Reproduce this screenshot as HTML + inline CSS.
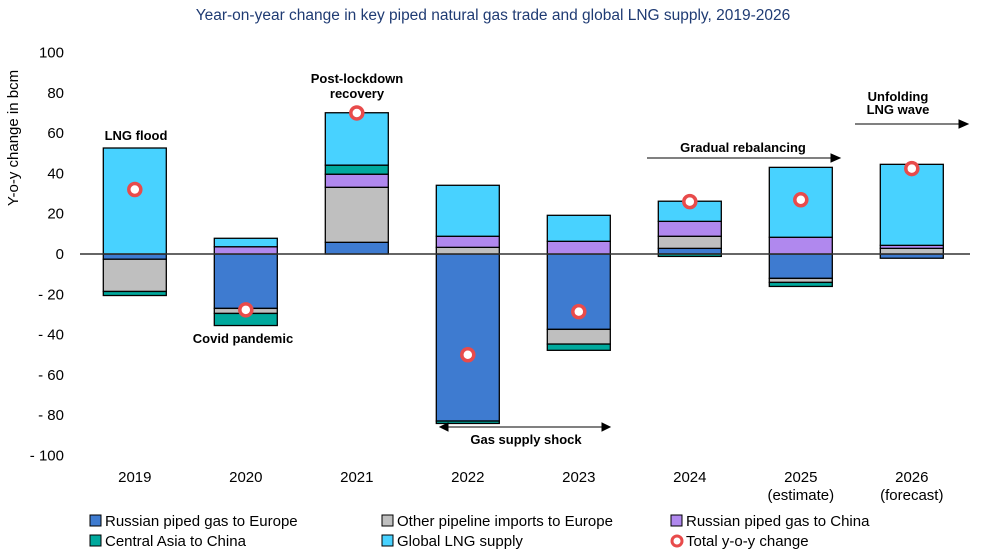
<!DOCTYPE html>
<html><head><meta charset="utf-8"><style>
body{margin:0;background:#fff;}
svg{display:block;font-family:"Liberation Sans",Arial,sans-serif;}
</style></head><body>
<svg id="chart" width="986" height="556">
<text x="493" y="20" text-anchor="middle" font-size="15.5" fill="#1F3B73">Year-on-year change in key piped natural gas trade and global LNG supply, 2019-2026</text>
<text transform="translate(18,138) rotate(-90)" text-anchor="middle" font-size="15" fill="#000">Y-o-y change in bcm</text>
<g id="yticks"></g>
<g id="bars"></g>
<line x1="80" x2="970" y1="254" y2="254" stroke="#333" stroke-width="1.5"/>
<g id="dots"></g>
<g id="xlabels"></g>
<g font-size="13" font-weight="bold" fill="#000">
<text x="136" y="140" text-anchor="middle">LNG flood</text>
<text x="243" y="343" text-anchor="middle">Covid pandemic</text>
<text x="357" y="83" text-anchor="middle">Post-lockdown</text>
<text x="357" y="98" text-anchor="middle">recovery</text>
<text x="526" y="444" text-anchor="middle">Gas supply shock</text>
<text x="743" y="152" text-anchor="middle">Gradual rebalancing</text>
<text x="898" y="101" text-anchor="middle">Unfolding</text>
<text x="898" y="114" text-anchor="middle">LNG wave</text>
</g>
<g stroke="#000" stroke-width="1" fill="#000">
<line x1="446" x2="604" y1="427" y2="427"/>
<polygon points="440,427 448,423 448,431"/>
<polygon points="610,427 602,423 602,431"/>
<line x1="647" x2="834" y1="158" y2="158"/>
<polygon points="840,158 831,154 831,162"/>
<line x1="855" x2="962" y1="124" y2="124"/>
<polygon points="968,124 959,120 959,128"/>
</g>
<g id="legend" font-size="15" fill="#000"></g>
</svg>
<script>
const categories=["2019","2020","2021","2022","2023","2024","2025","2026"];
const subLabels=["","","","","","","(estimate)","(forecast)"];
const russiaEurope=[-2.6,-27,5.8,-82.9,-37.4,2.8,-12.1,-2.1];
const otherPipeline=[-16,-2.5,27.3,3.3,-7.3,6,-2,2.8];
const russiaChina=[0,3.6,6.5,5.5,6.3,7.4,8.3,1.5];
const centralAsia=[-2,-6,4.5,-1.2,-3.1,-1.2,-2,0];
const lngSupply=[52.6,4.2,26,25.3,12.9,10,34.7,40.2];
const totalChange=[32,-27.7,70,-50,-28.6,26,26.9,42.4];
const yTicks=[100,80,60,40,20,0,-20,-40,-60,-80,-100];
const seriesNames=["Russian piped gas to Europe","Other pipeline imports to Europe","Russian piped gas to China","Central Asia to China","Global LNG supply"];
const seriesKeys=["russia-europe","other-pipeline","russia-china","central-asia","lng-supply"];
const colors=["#3E7BD0","#BFBFBF","#B088EE","#00A99D","#48D2FF"];
const NS="http://www.w3.org/2000/svg";
function y(v){return 254-v*2.015;}
function x(i){return 134.8+i*111;}
function mk(tag,attrs,parent){const e=document.createElementNS(NS,tag);for(const k in attrs)e.setAttribute(k,attrs[k]);parent.appendChild(e);return e;}
const yt=document.getElementById("yticks");
yTicks.forEach(v=>{const t=mk("text",{x:64,y:y(v)+5,"text-anchor":"end","font-size":15},yt);


t.textContent=v<0?"- "+(-v):String(v);});
const series=[russiaEurope,otherPipeline,russiaChina,centralAsia,lngSupply];
const bg=document.getElementById("bars");
const bw=63;
categories.forEach((c,i)=>{let pos=0,neg=0;
series.forEach((s,k)=>{const v=s[i];if(!v)return;let y0,y1;
if(v>0){y0=pos;y1=pos+v;pos=y1;}else{y0=neg;y1=neg+v;neg=y1;}
const r=mk("rect",{x:x(i)-bw/2,y:Math.min(y(y0),y(y1)),width:bw,height:Math.abs(y(y1)-y(y0)),fill:colors[k],stroke:"#000","stroke-width":1.3},bg);

});});
const dg=document.getElementById("dots");
totalChange.forEach((v,i)=>{const d=mk("circle",{cx:x(i),cy:y(v),r:6,fill:"#fff",stroke:"#E84B4B","stroke-width":3.5},dg);

});
const xl=document.getElementById("xlabels");
categories.forEach((c,i)=>{const t=mk("text",{x:x(i),y:482,"text-anchor":"middle","font-size":15},xl);


t.textContent=c;
if(subLabels[i]){const s=mk("text",{x:x(i),y:500,"text-anchor":"middle","font-size":15},xl);


s.textContent=subLabels[i];}});
const lg=document.getElementById("legend");
const lpos=[[90,521],[382,521],[671,521],[90,541],[382,541]];
seriesNames.forEach((n,k)=>{const [lx,ly]=lpos[k];
const g=mk("g",{},lg);


mk("rect",{x:lx,y:ly-6,width:11,height:11,fill:colors[k],stroke:"#000","stroke-width":1},g);
const t=mk("text",{x:lx+15,y:ly+5},g);t.textContent=n;});
const g=mk("g",{},lg);


mk("circle",{cx:677,cy:541,r:5,fill:"#fff",stroke:"#E84B4B","stroke-width":3},g);
const tt=mk("text",{x:686,y:546},g);tt.textContent="Total y-o-y change";
</script>
</body></html>
